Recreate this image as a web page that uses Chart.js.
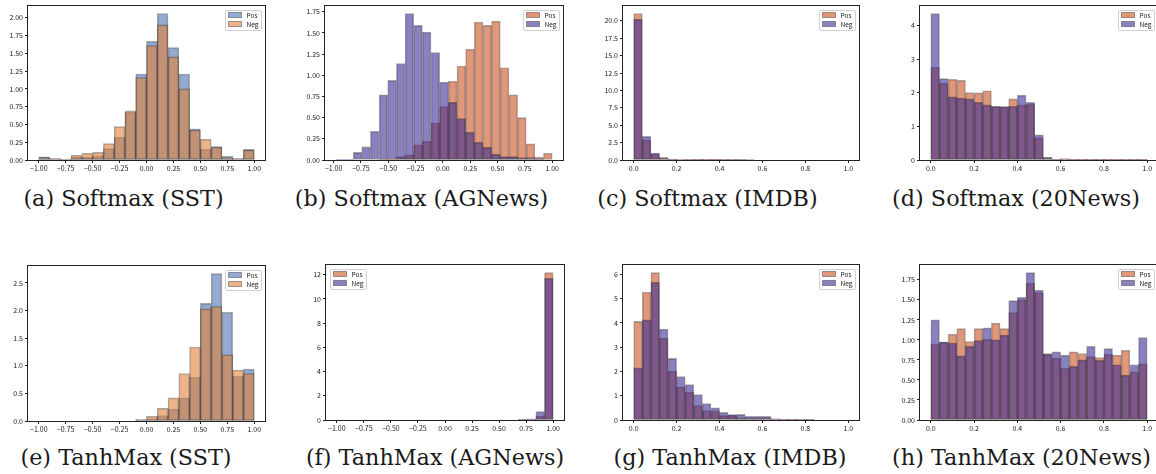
<!DOCTYPE html>
<html>
<head>
<meta charset="utf-8">
<script src="https://cdn.jsdelivr.net/npm/chart.js@4.4.0/dist/chart.umd.min.js"></script>
<style>
html, body { margin: 0; padding: 0; background: #fff; }
body { position: relative; width: 1156px; height: 474px; overflow: hidden; }
.panel { position: absolute; }
.cap { position: absolute; font-family: "DejaVu Serif", serif; font-size: 22.3px; line-height: 24px;
       color: #1a1a1a; white-space: nowrap; transform: translateX(-50%); }
</style>
</head>
<body>
<script>
// tick labels
const symTicks = [-1, -0.75, -0.5, -0.25, 0, 0.25, 0.5, 0.75, 1];
const unitTicks = [0, 0.2, 0.4, 0.6, 0.8, 1];
const yTicksA = [0, 0.25, 0.5, 0.75, 1, 1.25, 1.5, 1.75, 2];
const yTicksB = [0, 0.25, 0.5, 0.75, 1, 1.25, 1.5, 1.75];
const yTicksC = [0, 2.5, 5, 7.5, 10, 12.5, 15, 17.5, 20];
const yTicksD = [0, 1, 2, 3, 4];
const yTicksE = [0, 0.5, 1, 1.5, 2, 2.5];
const yTicksF = [0, 2, 4, 6, 8, 10, 12];
const yTicksG = [0, 1, 2, 3, 4, 5, 6];
const yTicksH = [0, 0.25, 0.5, 0.75, 1, 1.25, 1.5, 1.75];

const seriesNames = ['Pos', 'Neg'];

// (a) Softmax (SST), 20 bins on [-1, 1]
const softSstPos = [0.045, 0.02, 0.005, 0.04, 0.04, 0.06, 0.16, 0.32, 0.67, 1.21, 1.67, 2.06, 1.58, 1.21, 0.44, 0.15, 0.19, 0.05, 0.02, 0.15];
const softSstNeg = [0.035, 0.02, 0.005, 0.065, 0.093, 0.107, 0.23, 0.47, 0.69, 1.16, 1.61, 1.90, 1.45, 1.00, 0.42, 0.29, 0.18, 0.03, 0.02, 0.14];

// (b) Softmax (AGNews), 25 bins on [-0.98, 1]
const softAgPos = [0, 0, 0, 0, 0, 0.005, 0.01, 0.04, 0.06, 0.18, 0.22, 0.44, 0.63, 0.93, 1.11, 1.31, 1.63, 1.59, 1.64, 1.09, 0.77, 0.50, 0.19, 0.035, 0.08];
const softAgNeg = [0.003, 0.003, 0.09, 0.157, 0.34, 0.77, 0.94, 1.14, 1.73, 1.59, 1.51, 1.27, 0.92, 0.68, 0.49, 0.33, 0.21, 0.15, 0.07, 0.04, 0.04, 0.03, 0.03, 0.01, 0];

// (c) Softmax (IMDB), 25 bins on [0, 1]
const softImdbPos = [21.05, 2.9, 0.9, 0.25, 0.1, 0.07, 0.05, 0.04, 0.03, 0.02, 0.01, 0.01, 0.005, 0, 0, 0, 0, 0, 0, 0, 0, 0, 0, 0, 0];
const softImdbNeg = [20.2, 3.4, 1.0, 0.38, 0.12, 0.08, 0.06, 0.05, 0.04, 0.03, 0.02, 0.01, 0.01, 0.005, 0, 0, 0, 0, 0, 0, 0, 0, 0, 0, 0];

// (d) Softmax (20News), 25 bins on [0, 1]
const soft20Pos = [2.76, 2.29, 2.40, 2.37, 2.01, 2.00, 2.06, 1.60, 1.58, 1.82, 1.64, 1.66, 0.66, 0.07, 0.02, 0.04, 0.01, 0.01, 0.005, 0.005, 0.005, 0.005, 0.005, 0.005, 0.005];
const soft20Neg = [4.36, 2.42, 1.88, 1.84, 1.82, 1.72, 1.64, 1.59, 1.59, 1.60, 1.93, 1.72, 0.75, 0.08, 0.02, 0.02, 0.01, 0.01, 0.005, 0.005, 0.005, 0.005, 0.005, 0.005, 0.005];

// (e) TanhMax (SST), 20 bins on [-1, 1]
const tanhSstPos = [0, 0, 0, 0, 0, 0, 0, 0, 0, 0.01, 0.04, 0.10, 0.21, 0.42, 0.79, 2.13, 2.67, 1.97, 0.81, 0.94];
const tanhSstNeg = [0, 0, 0, 0, 0, 0, 0, 0, 0, 0.035, 0.085, 0.23, 0.42, 0.86, 1.34, 2.03, 2.07, 1.20, 0.92, 0.86];

// (f) TanhMax (AGNews), 25 bins on [-1, 1]
const tanhAgPos = [0, 0, 0, 0, 0, 0, 0, 0, 0, 0, 0, 0, 0, 0, 0, 0, 0, 0, 0, 0, 0, 0.01, 0.08, 0.33, 12.17];
const tanhAgNeg = [0, 0, 0, 0, 0, 0, 0, 0, 0, 0, 0, 0, 0, 0, 0, 0, 0, 0, 0, 0, 0, 0.02, 0.10, 0.69, 11.7];

// (g) TanhMax (IMDB), 25 bins on [0, 1]
const tanhImdbPos = [4.06, 5.26, 6.07, 3.37, 2.01, 1.37, 1.14, 0.59, 0.39, 0.38, 0.18, 0.19, 0.10, 0.08, 0.07, 0.07, 0.05, 0.01, 0.01, 0.005, 0.005, 0, 0, 0, 0];
const tanhImdbNeg = [2.15, 4.12, 5.67, 3.74, 2.54, 1.79, 1.46, 1.05, 0.68, 0.50, 0.32, 0.22, 0.23, 0.15, 0.15, 0.15, 0.05, 0.01, 0.01, 0.005, 0.005, 0, 0, 0, 0];

// (h) TanhMax (20News), 25 bins on [0, 1]
const tanh20Pos = [0.95, 0.97, 1.07, 1.14, 0.98, 1.14, 1.01, 1.21, 1.14, 1.34, 1.50, 1.71, 1.59, 0.83, 0.77, 0.645, 0.85, 0.83, 0.79, 0.78, 0.82, 0.81, 0.87, 0.60, 0.70];
const tanh20Neg = [1.25, 0.975, 0.96, 0.80, 0.92, 0.99, 1.15, 1.00, 1.06, 1.49, 1.53, 1.84, 1.62, 0.82, 0.85, 0.81, 0.67, 0.75, 0.92, 0.745, 0.89, 0.69, 0.56, 0.69, 1.03];

const blueOrange = { pos: 'rgba(76,114,176,0.6)', neg: 'rgba(225,130,60,0.6)' };
const orangePurple = { pos: 'rgba(203,82,33,0.6)', neg: 'rgba(62,45,150,0.6)' };
const edge = 'rgba(0,0,0,0.35)';
const tickFont = { family: '"Noto Sans CJK SC", "DejaVu Sans", sans-serif', size: 7 };

const panels = [
  { rect: [28, 6, 265, 160], lo: -1, hi: 1, pos: softSstPos, neg: softSstNeg, xt: symTicks, xd: 2, yt: yTicksA, yd: 2, pal: blueOrange, cap: '(a) Softmax (SST)', cx: 123.5, cy: 198 },
  { rect: [325, 6, 563, 160], lo: -0.98, hi: 1, pos: softAgPos, neg: softAgNeg, xt: symTicks, xd: 2, yt: yTicksB, yd: 2, pal: orangePurple, cap: '(b) Softmax (AGNews)', cx: 421.5, cy: 198 },
  { rect: [623, 6, 859, 160], lo: 0, hi: 1, pos: softImdbPos, neg: softImdbNeg, xt: unitTicks, xd: 1, yt: yTicksC, yd: 1, pal: orangePurple, cap: '(c) Softmax (IMDB)', cx: 707.5, cy: 198 },
  { rect: [920, 6, 1158, 160], lo: 0, hi: 1, pos: soft20Pos, neg: soft20Neg, xt: unitTicks, xd: 1, yt: yTicksD, yd: 0, pal: orangePurple, cap: '(d) Softmax (20News)', cx: 1016, cy: 198 },
  { rect: [28, 265.5, 265, 420], lo: -1, hi: 1, pos: tanhSstPos, neg: tanhSstNeg, xt: symTicks, xd: 2, yt: yTicksE, yd: 1, pal: blueOrange, cap: '(e) TanhMax (SST)', cx: 126, cy: 457 },
  { rect: [325.5, 265, 563, 420], lo: -1, hi: 1, pos: tanhAgPos, neg: tanhAgNeg, xt: symTicks, xd: 2, yt: yTicksF, yd: 0, pal: orangePurple, cap: '(f) TanhMax (AGNews)', cx: 435, cy: 457, legendLeft: true },
  { rect: [623, 265, 859, 420], lo: 0, hi: 1, pos: tanhImdbPos, neg: tanhImdbNeg, xt: unitTicks, xd: 1, yt: yTicksG, yd: 0, pal: orangePurple, cap: '(g) TanhMax (IMDB)', cx: 730, cy: 457 },
  { rect: [920, 265, 1158, 420], lo: 0, hi: 1, pos: tanh20Pos, neg: tanh20Neg, xt: unitTicks, xd: 1, yt: yTicksH, yd: 2, pal: orangePurple, cap: '(h) TanhMax (20News)', cx: 1021.5, cy: 457 }
];

function fmt(v, d) {
  const s = Math.abs(v).toFixed(d);
  return v < -1e-9 ? '\u2212' + s : s;
}

// axes box like matplotlib spines
const frame = {
  id: 'frame',
  afterDraw(chart) {
    const { ctx, chartArea: a } = chart;
    ctx.save();
    ctx.strokeStyle = '#222';
    ctx.lineWidth = 1;
    ctx.strokeRect(Math.round(a.left) - 0.5, Math.round(a.top) - 0.5,
      Math.round(a.right - a.left) + 1, Math.round(a.bottom - a.top) + 1);
    ctx.restore();
  }
};

// small legend drawn inside the axes
const legendBox = {
  id: 'legendBox',
  afterDraw(chart, args, opts) {
    const { ctx, chartArea: a } = chart;
    const bw = 36, bh = 20;
    const x = Math.round(opts.left ? a.left + 4 : a.right - 4 - bw) + 0.5;
    const y = Math.round(a.top + 4) + 0.5;
    ctx.save();
    ctx.fillStyle = 'rgba(255,255,255,0.85)';
    ctx.strokeStyle = '#d0d0d0';
    ctx.lineWidth = 1;
    ctx.beginPath();
    ctx.roundRect(x, y, bw, bh, 1.5);
    ctx.fill();
    ctx.stroke();
    ctx.font = '6.5px ' + tickFont.family;
    ctx.textBaseline = 'middle';
    chart.data.datasets.forEach((ds, i) => {
      const py = y + 2 + i * 9;
      ctx.fillStyle = ds.backgroundColor;
      ctx.fillRect(x + 3, py, 13, 5);
      ctx.strokeStyle = ds.borderColor;
      ctx.strokeRect(x + 3, py, 13, 5);
      ctx.fillStyle = '#222';
      ctx.fillText(ds.label, x + 21, py + 3);
    });
    ctx.restore();
  }
};

function makePanel(p) {
  const [L, T, R, B] = p.rect;
  const padL = 34, padT = 6, padR = 6, padB = 16;
  const w = Math.round(R - L + padL + padR), h = Math.round(B - T + padT + padB);
  const wrap = document.createElement('div');
  wrap.className = 'panel';
  wrap.style.left = (L - padL) + 'px';
  wrap.style.top = (T - padT) + 'px';
  const canvas = document.createElement('canvas');
  canvas.width = w; canvas.height = h;
  canvas.style.width = w + 'px'; canvas.style.height = h + 'px';
  wrap.appendChild(canvas);
  document.body.appendChild(wrap);

  const n = p.pos.length;
  const bw = (p.hi - p.lo) / n;
  const centers = p.pos.map((_, i) => p.lo + bw * (i + 0.5));
  const span = p.hi - p.lo;
  const ymax = 1.05 * Math.max(...p.pos, ...p.neg);

  const ds = (label, vals, color, order) => ({
    label, order,
    data: centers.map((x, i) => ({ x, y: vals[i] })),
    backgroundColor: color,
    borderColor: edge,
    borderWidth: 1,
    borderSkipped: false,
    grouped: false,
    barPercentage: 1,
    categoryPercentage: 1
  });

  const axisCommon = {
    grid: { display: true, drawOnChartArea: false, drawTicks: true, tickLength: 3, color: '#222', offset: false },
    border: { display: false }
  };

  new Chart(canvas, {
    type: 'bar',
    data: {
      datasets: [
        ds(seriesNames[0], p.pos, p.pal.pos, 2),
        ds(seriesNames[1], p.neg, p.pal.neg, 1)
      ]
    },
    options: {
      responsive: false,
      animation: false,
      layout: { padding: { left: 0, top: padT, right: padR, bottom: 0 } },
      plugins: {
        legend: { display: false },
        tooltip: { enabled: false },
        legendBox: { left: !!p.legendLeft }
      },
      scales: {
        x: {
          ...axisCommon,
          type: 'linear',
          offset: false,
          min: p.lo - 0.05 * span,
          max: p.hi + 0.05 * span,
          afterBuildTicks: s => { s.ticks = p.xt.map(v => ({ value: v })); },
          afterFit: s => { s.height = padB; },
          ticks: { callback: v => fmt(v, p.xd), font: tickFont, color: '#222', padding: 1, maxRotation: 0, autoSkip: false }
        },
        y: {
          ...axisCommon,
          type: 'linear',
          min: 0,
          max: ymax,
          afterBuildTicks: s => { s.ticks = p.yt.map(v => ({ value: v })); },
          afterFit: s => { s.width = padL; },
          ticks: { callback: v => fmt(v, p.yd), font: tickFont, color: '#222', padding: 2, autoSkip: false }
        }
      }
    },
    plugins: [frame, legendBox]
  });

  const cap = document.createElement('div');
  cap.className = 'cap';
  cap.textContent = p.cap;
  cap.style.left = p.cx + 'px';
  cap.style.top = (p.cy - 12) + 'px';
  document.body.appendChild(cap);
}

panels.forEach(makePanel);
</script>
</body>
</html>
